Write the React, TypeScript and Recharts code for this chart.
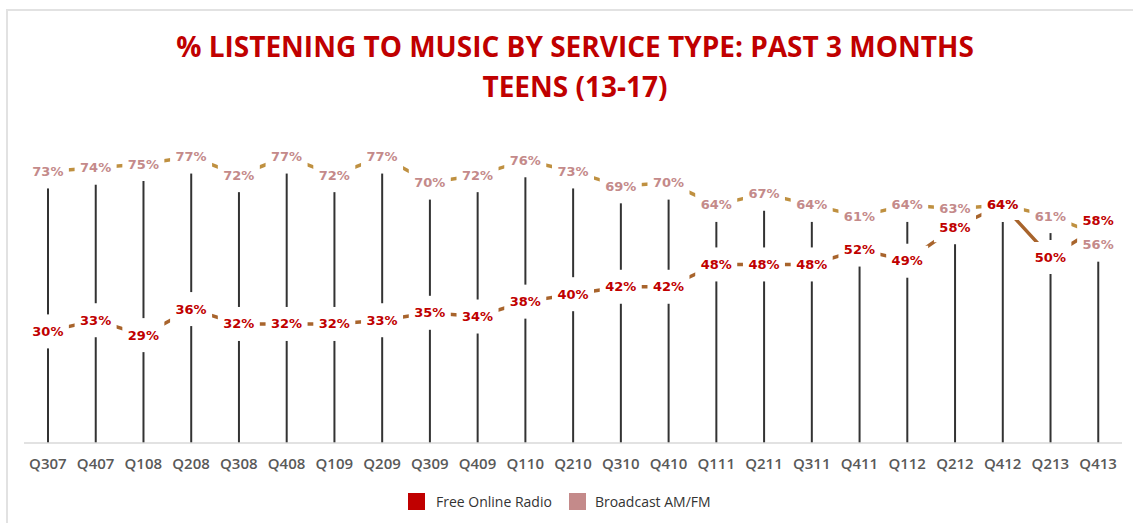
import { ComposedChart, Bar, Line, XAxis, YAxis, LabelList } from "recharts";

const quarters = [
  "Q307", "Q407", "Q108", "Q208", "Q308", "Q408", "Q109", "Q209", "Q309", "Q409", "Q110", "Q210",
  "Q310", "Q410", "Q111", "Q211", "Q311", "Q411", "Q112", "Q212", "Q412", "Q213", "Q413",
];
const freeOnline = [30, 33, 29, 36, 32, 32, 32, 33, 35, 34, 38, 40, 42, 42, 48, 48, 48, 52, 49, 58, 64, 50, 58];
const broadcast = [73, 74, 75, 77, 72, 77, 72, 77, 70, 72, 76, 73, 69, 70, 64, 67, 64, 61, 64, 63, 64, 61, 56];

const RED = "#c00000";
const PINK = "#c48a8a";

const data = quarters.map((q, i) => ({
  q,
  free: freeOnline[i],
  broadcast: broadcast[i],
  top: Math.max(freeOnline[i], broadcast[i]),
}));

const last = quarters.length - 1;
const shiftBroadcast = (i: number) => (i === last ? 10 : 0);
const shiftFree = (i: number) => (i === last ? -7 : 0);

// white knockout behind a label so the lines look broken around it
const labelBox = (shift: (i: number) => number) => (props: any) => {
  const { x, y, index } = props;
  const cy = y + shift(index);
  return (
    <g>
      <rect x={x - 21} y={cy - 15} width={42} height={30} fill="#ffffff" />
      <rect x={x - 4} y={cy - 17} width={8} height={34} fill="#ffffff" />
    </g>
  );
};

const labelText = (color: string, shift: (i: number) => number) => (props: any) => {
  const { x, y, value, index } = props;
  return (
    <text
      x={x}
      y={y + shift(index)}
      textAnchor="middle"
      dominantBaseline="central"
      fill={color}
      fontFamily="DejaVu Sans"
      fontWeight="bold"
      fontSize={13}
    >
      {value}%
    </text>
  );
};

export default function App() {
  return (
    <div style={{ position: "absolute", left: 0, top: 0, width: 1133, height: 523, background: "#fff" }}>
      <div
        style={{
          position: "absolute",
          left: 6,
          top: 9,
          right: 0,
          bottom: 0,
          borderLeft: "2px solid #e2e2e2",
          borderTop: "2px solid #e2e2e2",
        }}
      />
      <div
        style={{
          position: "absolute",
          left: 0,
          top: 26,
          width: 1150,
          textAlign: "center",
          color: RED,
          fontFamily: "'Liberation Sans Narrow', 'Open Sans', sans-serif",
          fontWeight: "bold",
          fontSize: 28,
          lineHeight: "40px",
        }}
      >
        % LISTENING TO MUSIC BY SERVICE TYPE: PAST 3 MONTHS
        <br />
        TEENS (13-17)
      </div>
      <ComposedChart
        width={1133}
        height={523}
        data={data}
        margin={{ top: 71, right: 11, left: 24, bottom: 50 }}
        style={{ position: "absolute", left: 0, top: 0 }}
      >
        <XAxis
          dataKey="q"
          height={30}
          axisLine={{ stroke: "#d9d9d9", strokeWidth: 1.5 }}
          tickLine={false}
          tickMargin={9}
          interval={0}
          tick={{ fill: "#595959", fontFamily: "Open Sans", fontWeight: 600, fontSize: 15 }}
        />
        <YAxis hide domain={[0, 100]} />
        <Bar dataKey="top" barSize={2} fill="#333333" isAnimationActive={false} />
        {/* connecting lines first, then label boxes, then label texts */}
        <Line dataKey="broadcast" stroke="#bf9040" strokeWidth={3.5} dot={false} isAnimationActive={false} />
        <Line dataKey="free" stroke="#a8642c" strokeWidth={3.5} dot={false} isAnimationActive={false} />
        <Line dataKey="broadcast" stroke="none" dot={false} isAnimationActive={false} legendType="none">
          <LabelList dataKey="broadcast" content={labelBox(shiftBroadcast)} />
        </Line>
        <Line dataKey="free" stroke="none" dot={false} isAnimationActive={false} legendType="none">
          <LabelList dataKey="free" content={labelBox(shiftFree)} />
        </Line>
        <Line dataKey="broadcast" stroke="none" dot={false} isAnimationActive={false} legendType="none">
          <LabelList dataKey="broadcast" content={labelText(PINK, shiftBroadcast)} />
        </Line>
        <Line dataKey="free" stroke="none" dot={false} isAnimationActive={false} legendType="none">
          <LabelList dataKey="free" content={labelText(RED, shiftFree)} />
        </Line>
      </ComposedChart>
      <div
        style={{
          position: "absolute",
          left: 408,
          top: 492,
          display: "flex",
          alignItems: "center",
          fontFamily: "Open Sans",
          fontSize: 14,
          color: "#333",
        }}
      >
        <span style={{ width: 17, height: 17, background: RED, display: "inline-block", marginRight: 11 }} />
        <span style={{ marginRight: 17 }}>Free Online Radio</span>
        <span style={{ width: 17, height: 17, background: PINK, display: "inline-block", marginRight: 9 }} />
        <span>Broadcast AM/FM</span>
      </div>
    </div>
  );
}
